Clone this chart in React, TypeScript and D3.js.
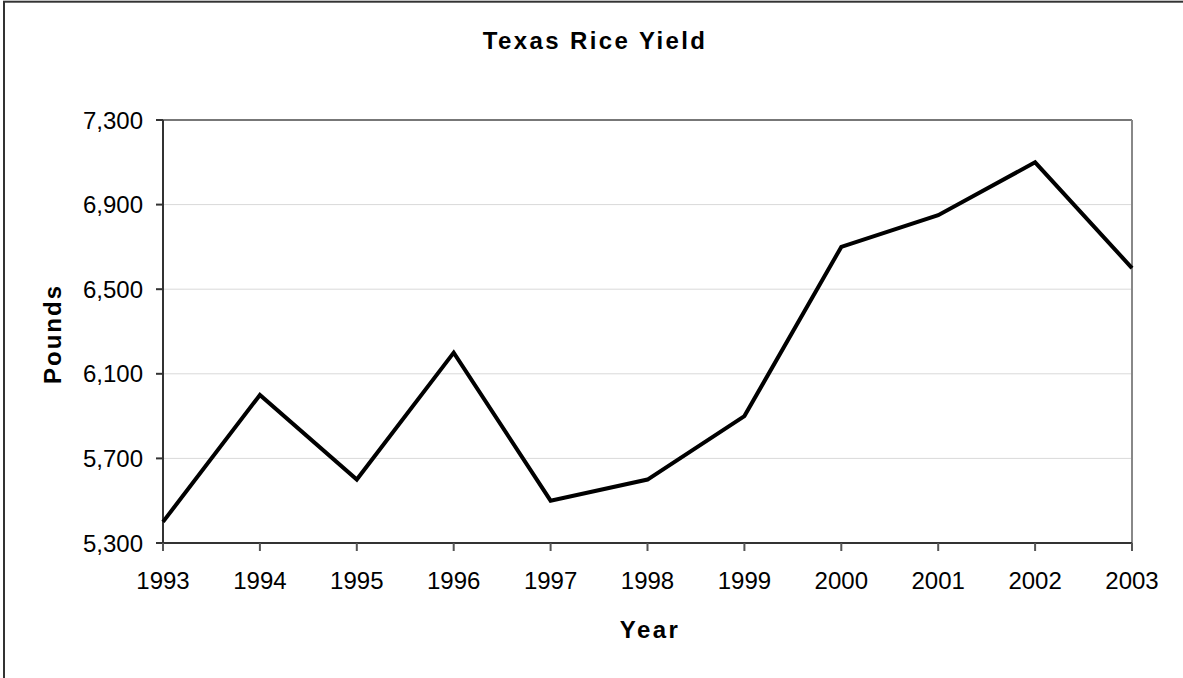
import * as d3 from 'd3';
import React from 'react';

// values
const years = [1993, 1994, 1995, 1996, 1997, 1998, 1999, 2000, 2001, 2002, 2003];
const yields = [5400, 6000, 5600, 6200, 5500, 5600, 5900, 6700, 6850, 7100, 6600];
const yTicks = [5300, 5700, 6100, 6500, 6900, 7300];

const font = "Arial, 'Liberation Sans', sans-serif";

function App() {
    var margin = { top: 120, right: 51, bottom: 135, left: 163 },
        width = 1183 - margin.left - margin.right,
        height = 678 - margin.top - margin.bottom;

    let x = d3.scalePoint<number>()
        .domain(years)
        .range([0, width]);

    let y = d3.scaleLinear()
        .domain([5300, 7300])
        .range([height, 0]);

    const fmt = d3.format(',');

    const line = d3.line<number>()
        .x((d, i) => x(years[i]) as number)
        .y(d => y(d));

    return (
        <svg width={1183} height={678} style={{ position: 'absolute', left: 0, top: 0, background: '#fff' }}>
            {/* outer chart border, runs off right and bottom edge */}
            <rect x={4} y={1.7} width={1200} height={700} fill="#fff" stroke="#333" strokeWidth={2} />

            <text x={595} y={49} textAnchor="middle" fontFamily={font} fontWeight="bold"
                fontSize={24} letterSpacing={2.4} fill="#000">Texas Rice Yield</text>

            <g transform={"translate(" + margin.left + "," + margin.top + ")"}>
                {/* gridlines */}
                {yTicks.slice(1, -1).map(t => (
                    <line key={t} x1={0} x2={width} y1={y(t)} y2={y(t)} stroke="#d9d9d9" strokeWidth={1} />
                ))}
                {/* top & right frame */}
                <line x1={-7} x2={width} y1={0} y2={0} stroke="#777" strokeWidth={2} />
                <line x1={width} x2={width} y1={0} y2={height} stroke="#888" strokeWidth={2} />

                {/* y axis */}
                <line x1={0} x2={0} y1={0} y2={height + 8} stroke="#333" strokeWidth={2} />
                {yTicks.map(t => (
                    <g key={t}>
                        <line x1={-7} x2={0} y1={y(t)} y2={y(t)} stroke="#333" strokeWidth={2} />
                        <text x={-20} y={y(t) + 8.5} textAnchor="end" fontFamily={font} fontSize={24} fill="#000">
                            {fmt(t)}
                        </text>
                    </g>
                ))}

                {/* x axis */}
                <line x1={-7} x2={width} y1={height} y2={height} stroke="#333" strokeWidth={2} />
                {years.map(yr => (
                    <g key={yr}>
                        <line x1={x(yr)} x2={x(yr)} y1={height} y2={height + 8} stroke="#555" strokeWidth={2} />
                        <text x={x(yr)} y={height + 46} textAnchor="middle" fontFamily={font} fontSize={24} fill="#000">
                            {yr}
                        </text>
                    </g>
                ))}

                <path d={line(yields) || ''} fill="none" stroke="#000" strokeWidth={4} strokeLinejoin="miter" />
            </g>

            <text transform="translate(61,334) rotate(-90)" textAnchor="middle" fontFamily={font}
                fontWeight="bold" fontSize={24} letterSpacing={2} fill="#000">Pounds</text>
            <text x={650} y={638} textAnchor="middle" fontFamily={font} fontWeight="bold"
                fontSize={24} letterSpacing={2.4} fill="#000">Year</text>
        </svg>
    );
}

export default App;
